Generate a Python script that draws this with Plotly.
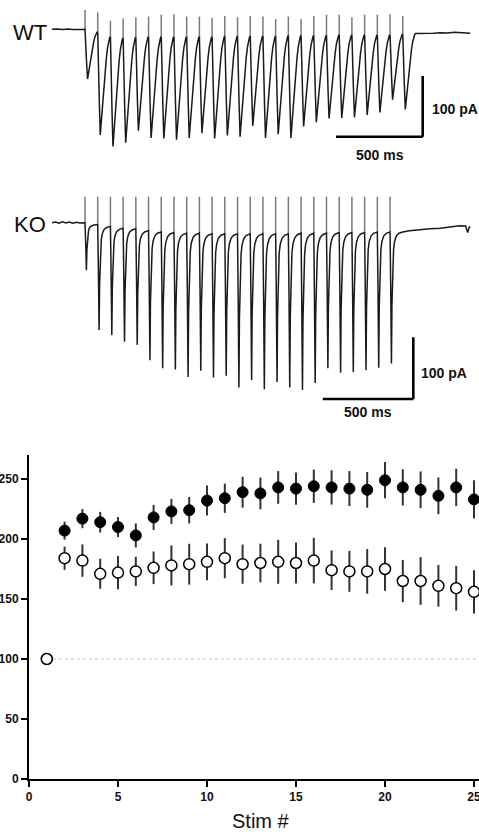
import plotly.graph_objects as go

# ------------------------------------------------------------------ data
# Evoked EPSC trains (pA; negative = inward)
ISI_MS = 73.3                      # inter-stimulus interval (ms)

WT_TROUGH = [-82, -174, -193, -187, -167, -179, -180, -182, -179, -171, -180, -175, -177,
             -159, -179, -173, -179, -160, -153, -147, -146, -145, -141, -137, -116, -132]
WT_REST = [-4, -12, -14, -13, -12, -12, -12, -12, -12, -12, -11, -11, -11,
           -11, -11, -10, -10, -10, -10, -9, -9, -9, -9, -9, -8, -7]
WT_ARTIFACT = [32, 28, 14, 18, 20, 21, 24, 25, 21, 21, 19, 22, 20,
               22, 21, 17, 21, 17, 22, 24, 24, 20, 24, 24, 25, 22]
WT_PRE_T = [-190, -160, -130, -100, -70, -40, -15, 0]
WT_PRE_V = [0, 0.6, -0.4, 0.5, -0.3, 0.4, -0.2, 0]
WT_POST_T = [1930, 1970, 2010, 2050, 2090, 2130, 2170, 2205, 2222]
WT_POST_V = [-7, -6, -6.5, -5.5, -6, -5, -5.5, -6, -6.5]

KO_TROUGH = [-77, -174, -182, -193, -198, -223, -236, -238, -250, -240, -251, -248, -267,
             -255, -270, -258, -267, -271, -260, -236, -243, -242, -239, -235, -228]
KO_REST = [-3, -6, -9, -10, -13, -15, -16, -17, -17, -18, -18, -18, -18,
           -18, -18, -18, -17, -17, -17, -16, -16, -16, -15, -15, -15]
KO_ARTIFACT = [42, 42, 42, 42, 42, 42, 42, 42, 42, 42, 42, 42, 42,
               42, 42, 42, 42, 42, 42, 42, 42, 42, 42, 42, 42]
KO_PRE_T = [-190, -170, -150, -130, -110, -90, -70, -50, -30, -10, 0]
KO_PRE_V = [0, 1.2, -0.8, 1.5, -0.5, 1.0, -1.0, 0.8, -0.4, 0.6, 0]
KO_POST_T = [1870, 1930, 1990, 2050, 2110, 2160, 2195, 2207, 2215, 2222]
KO_POST_V = [-13, -11, -10, -9, -7, -5, -5.5, -16, -8, -6]

# normalised EPSC waveform (fraction of ISI, fraction of amplitude)
WT_SHAPE_F = [0, 0.04, 0.12, 0.20, 0.28, 0.38, 0.48, 0.58, 0.68, 0.78, 0.87, 0.94, 1.0]
WT_SHAPE_V = [0, 0.15, 0.65, 1.0, 0.86, 0.70, 0.52, 0.36, 0.22, 0.11, 0.045, 0.012, 0]
KO_SHAPE_F = [0, 0.05, 0.11, 0.15, 0.21, 0.28, 0.36, 0.50, 0.70, 1.0]
KO_SHAPE_V = [0, 0.40, 1.0, 0.55, 0.24, 0.13, 0.07, 0.03, 0.01, 0]

# Normalised amplitude vs stimulus number (% of first EPSC)
STIM = list(range(1, 26))
FILLED_MEAN = [100, 207, 217, 214, 210, 203, 218, 223, 224, 232, 234, 239, 238,
               243, 242, 244, 243, 242, 241, 249, 243, 241, 236, 243, 233]
FILLED_SEM = [0, 7.5, 8, 8.6, 8.3, 10, 10.4, 10.4, 11, 12.5, 12.2, 12.9, 13.2,
              13.6, 13.5, 13.9, 14.3, 14.6, 14.9, 15.1, 15.1, 15.3, 15.3, 15.6, 16]
OPEN_MEAN = [100, 184, 182, 171, 172, 173, 176, 178, 179, 181, 184, 179, 180,
             181, 180, 182, 174, 173, 173, 175, 165, 165, 161, 159, 156]
OPEN_SEM = [0, 9.7, 13.5, 12.5, 13.9, 12.2, 13.6, 16.7, 17, 15.3, 16.7, 16.3, 16.1,
            18.3, 17, 19, 16.5, 17, 18.6, 18.2, 17.6, 19.9, 17.4, 18.6, 18]

X_TICKS = [0, 5, 10, 15, 20, 25]
Y_TICKS = [0, 50, 100, 150, 200, 250]

# ------------------------------------------------------------------ layout constants
W, H = 479, 832
FONT = "Liberation Sans, Arial, sans-serif"
PX_PER_MS = 0.1734
STIM0_PX = 85.0


def build_trace(trough, rest, art, shape_f, shape_v, pre_t, pre_v, post_t, post_v):
    xs, ys = list(pre_t), list(pre_v)
    ax, ay = [], []
    peak = shape_v.index(max(shape_v))
    prev = pre_v[-1]
    for k, (a, r) in enumerate(zip(trough, rest)):
        t0 = k * ISI_MS
        ax += [t0, t0, None]
        ay += [prev, art[k], None]
        for i, (f, v) in enumerate(zip(shape_f, shape_v)):
            if i == 0:
                continue
            ref = prev if i <= peak else r
            xs.append(t0 + f * ISI_MS)
            ys.append(ref + (a - ref) * v)
        prev = r
    xs += post_t
    ys += post_v
    return xs, ys, ax, ay


fig = go.Figure()

panels = [
    ("x", "y", WT_TROUGH, WT_REST, WT_ARTIFACT, WT_SHAPE_F, WT_SHAPE_V,
     WT_PRE_T, WT_PRE_V, WT_POST_T, WT_POST_V),
    ("x2", "y2", KO_TROUGH, KO_REST, KO_ARTIFACT, KO_SHAPE_F, KO_SHAPE_V,
     KO_PRE_T, KO_PRE_V, KO_POST_T, KO_POST_V),
]
for xa, ya, tr, re, ar, sf, sv, pt, pv, qt, qv in panels:
    xs, ys, ax, ay = build_trace(tr, re, ar, sf, sv, pt, pv, qt, qv)
    fig.add_trace(go.Scatter(x=ax, y=ay, mode="lines", xaxis=xa, yaxis=ya,
                             line=dict(color="#7a7a7a", width=1.5), hoverinfo="skip"))
    fig.add_trace(go.Scatter(x=xs, y=ys, mode="lines", xaxis=xa, yaxis=ya,
                             line=dict(color="#1a1a1a", width=1.5), hoverinfo="skip"))

# summary plot
fig.add_trace(go.Scatter(
    x=STIM, y=FILLED_MEAN, mode="markers", xaxis="x3", yaxis="y3", cliponaxis=False,
    error_y=dict(type="data", array=FILLED_SEM, color="#333333", thickness=2, width=0),
    marker=dict(symbol="circle", size=11, color="black", line=dict(color="black", width=1)),
    name="filled"))
fig.add_trace(go.Scatter(
    x=STIM, y=OPEN_MEAN, mode="markers", xaxis="x3", yaxis="y3", cliponaxis=False,
    error_y=dict(type="data", array=OPEN_SEM, color="#333333", thickness=2, width=0),
    marker=dict(symbol="circle", size=11, color="white", line=dict(color="black", width=1.5)),
    name="open"))


def trace_yaxis(base_px, ppa, top_px, bot_px):
    return dict(domain=[1 - bot_px / H, 1 - top_px / H],
                range=[-(bot_px - base_px) / ppa, (base_px - top_px) / ppa],
                visible=False, fixedrange=True, automargin=False)


x_trace = dict(domain=[0, 1], range=[-STIM0_PX / PX_PER_MS, (W - STIM0_PX) / PX_PER_MS],
               visible=False, fixedrange=True, automargin=False)

X3_LEFT_PX, X3_UNIT_PX = 29.0, 17.8
Y3_ZERO_PX, Y3_TOP_PX = 779.0, 455.0
axis_common = dict(showline=True, linecolor="black", linewidth=2, ticks="outside",
                   ticklen=6, tickwidth=2, tickcolor="black", showgrid=False, zeroline=False,
                   automargin=False, fixedrange=True, ticklabeloverflow="allow",
                   tickfont=dict(family=FONT, size=12, color="#111111", weight="bold"))

fig.update_layout(
    width=W, height=H, margin=dict(l=0, r=0, t=0, b=0, pad=0), autosize=False,
    paper_bgcolor="white", plot_bgcolor="white", showlegend=False,
    xaxis=x_trace,
    yaxis=trace_yaxis(29.3, 0.607, 0, 170),
    xaxis2=dict(x_trace, anchor="y2"),
    yaxis2=dict(trace_yaxis(222.7, 0.617, 180, 420), anchor="x2"),
    xaxis3=dict(axis_common, domain=[X3_LEFT_PX / W, 1],
                range=[0, (W - X3_LEFT_PX) / X3_UNIT_PX], tickvals=X_TICKS, anchor="y3"),
    yaxis3=dict(axis_common, domain=[1 - Y3_ZERO_PX / H, 1 - Y3_TOP_PX / H],
                range=[0, 270], tickvals=Y_TICKS, anchor="x3"),
)

# dotted 100 % reference line
fig.add_shape(type="line", xref="x3", yref="y3", x0=STIM[0], x1=(W - X3_LEFT_PX) / X3_UNIT_PX,
              y0=OPEN_MEAN[0], y1=OPEN_MEAN[0], line=dict(color="#c0c0c0", width=1, dash="dot"),
              layer="below")

# scale bars (100 pA / 500 ms)
bars = [("x", "y", 1947.5, -76.9, 100, 500), ("x2", "y2", 1893.3, -185.7, 100, 522)]
for xr, yr, tx, ytop, pa, ms in bars:
    fig.add_shape(type="line", xref=xr, yref=yr, x0=tx, x1=tx, y0=ytop, y1=ytop - pa,
                  line=dict(color="black", width=2.6))
    fig.add_shape(type="line", xref=xr, yref=yr, x0=tx - ms, x1=tx + 1, y0=ytop - pa, y1=ytop - pa,
                  line=dict(color="black", width=2.6))

labels = [
    ("WT", 10.5, 32.5, "left", 22, "normal"),
    ("KO", 11.5, 224.5, "left", 22, "normal"),
    ("100 pA", 430, 108.7, "left", 14, "bold"),
    ("500 ms", 380, 155, "center", 14, "bold"),
    ("100 pA", 419, 372.7, "left", 14, "bold"),
    ("500 ms", 368, 412, "center", 14, "bold"),
    ("Stim #", 261, 821, "center", 20, "normal"),
]
for txt, px, py, anc, sz, wt in labels:
    fig.add_annotation(text=txt, x=px / W, y=1 - py / H, xref="paper", yref="paper",
                       xanchor=anc, yanchor="middle", showarrow=False,
                       font=dict(family=FONT, size=sz, color="#111111", weight=wt))

# remove the browser's default 8px body margin so the figure sits at the window origin
fig.write_html("out.html", config={"displayModeBar": False, "responsive": False},
               post_script="document.body.style.margin='0px';")
